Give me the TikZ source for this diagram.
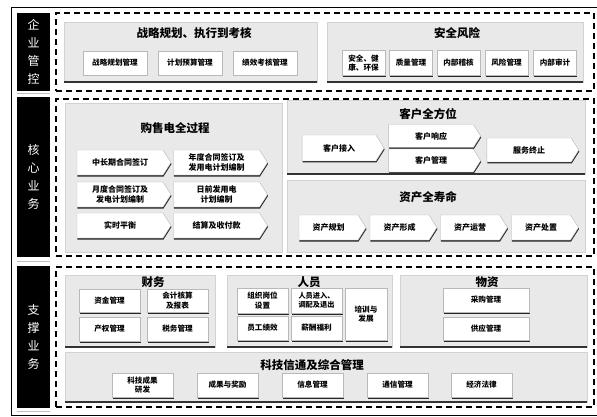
\documentclass[tikz,border=0pt]{standalone}
\usepackage{fontspec}
\usepackage{tikz}
\usetikzlibrary{shapes.symbols,shadows}
\newfontfamily\cjk{Noto Sans CJK SC}

\tikzset{
  pillar/.style={fill=black, text=white, outer sep=0pt, align=center,
    font=\cjk\fontsize{12}{18}\selectfont},
  band/.style={draw, line width=1.2pt, dash pattern=on 6pt off 4pt, outer sep=0pt},
  panel/.style={fill=gray!17, draw=gray!35, line width=.4pt, outer sep=0pt},
  panelbase/.style={line width=1.4pt, black!80},
  ptitle/.style={font=\cjk\bfseries\fontsize{11.5}{13}\selectfont, inner sep=0pt},
  box/.style={draw=gray!55, line width=.4pt, fill=white, align=center, inner sep=1pt,
    font=\cjk\bfseries\fontsize{7.6}{9.5}\selectfont,
    drop shadow={shadow xshift=.5pt, shadow yshift=-1.5pt, fill=black!85, opacity=1}},
  arrowbox/.style={box, signal, signal to=east, signal pointer angle=115,
    font=\cjk\bfseries\fontsize{8}{10}\selectfont},
}

\begin{document}
\begin{tikzpicture}[x=1pt, y=-1pt]
\useasboundingbox (0,0) rectangle (597,417);
\draw[line width=.5pt] (597,7) -- (11,7) -- (11,415) -- (597,415);

\node[pillar, minimum width=33pt, minimum height=78pt] (qygk) at (33.5,52) {企\\业\\管\\控};
\node[pillar, minimum width=33pt, minimum height=160pt] (hxyw) at (33.5,177) {核\\心\\业\\务};
\node[pillar, minimum width=33pt, minimum height=142pt] (zcyw) at (33.5,337) {支\\撑\\业\\务};
\draw[gray!50, line width=1pt] (17,94) -- (50,94) (17,261.5) -- (50,261.5) (17,411) -- (50,411);

\node[band, minimum width=538pt, minimum height=78pt] (b1) at (325,52) {};
\node[band, minimum width=538pt, minimum height=157pt] (b2) at (325,177.5) {};
\node[band, minimum width=538pt, minimum height=140pt] (b3) at (325,337) {};

% enterprise control
\node[panel, minimum width=253pt, minimum height=60pt] (zl) at (190.5,52) {};
\draw[panelbase] (zl.south west) -- (zl.south east);
\node[ptitle] at (194,33) {战略规划、执行到考核};
\node[box, minimum width=64pt, minimum height=24pt] (zlgh) at (115,63) {战略规划管理};
\node[box, minimum width=64pt, minimum height=24pt] (jhys) at (190,63) {计划预算管理};
\node[box, minimum width=64pt, minimum height=24pt] (jxkh) at (265,63) {绩效考核管理};

\node[panel, minimum width=256pt, minimum height=60pt] (aq) at (455,52) {};
\draw[panelbase] (aq.south west) -- (aq.south east);
\node[ptitle] at (457,33) {安全风险};
\node[box, minimum width=43pt, minimum height=25pt] (ajh) at (363.5,63) {安全、健\\康、环保};
\node[box, minimum width=43pt, minimum height=25pt] (zlgl) at (411,63) {质量管理};
\node[box, minimum width=43pt, minimum height=25pt] (nbjh) at (458.5,63) {内部稽核};
\node[box, minimum width=43pt, minimum height=25pt] (fxgl) at (506.5,63) {风险管理};
\node[box, minimum width=43pt, minimum height=25pt] (nbsj) at (555,63) {内部审计};

% core business
\node[panel, minimum width=217pt, minimum height=149pt] (gsd) at (173.5,177.5) {};
\node[ptitle] at (175,128) {购售电全过程};
\node[arrowbox, minimum width=94pt, minimum height=25pt] (zcq) at (120,162.5) {中长期合同签订};
\node[arrowbox, minimum width=94pt, minimum height=25pt] (ndht) at (216.5,162.5) {年度合同签订及\\发用电计划编制};
\node[arrowbox, minimum width=94pt, minimum height=25pt] (ydht) at (120,194.5) {月度合同签订及\\发电计划编制};
\node[arrowbox, minimum width=94pt, minimum height=25pt] (rqjh) at (216.5,194.5) {日前发用电\\计划编制};
\node[arrowbox, minimum width=94pt, minimum height=25pt] (sspx) at (120,225.5) {实时平衡};
\node[arrowbox, minimum width=94pt, minimum height=25pt] (jsfk) at (216.5,225.5) {结算及收付款};

\node[panel, minimum width=298pt, minimum height=74pt] (kh) at (436,137) {};
\draw[panelbase] (kh.south west) -- (kh.south east);
\node[ptitle] at (428,114) {客户全方位};
\node[arrowbox, minimum width=82pt, minimum height=26pt] (khjr) at (339,148) {客户接入};
\node[arrowbox, minimum width=92pt, minimum height=23pt] (khxy) at (431,136) {客户响应};
\node[arrowbox, minimum width=92pt, minimum height=23pt] (khgl) at (431,160.5) {客户管理};
\node[arrowbox, minimum width=92pt, minimum height=24pt] (fwzz) at (529,150) {服务终止};

\node[panel, minimum width=298pt, minimum height=72pt] (zc) at (436,216) {};
\node[ptitle] at (428,197) {资产全寿命};
\node[arrowbox, minimum width=67pt, minimum height=25pt] (zcgh) at (328.5,227.5) {资产规划};
\node[arrowbox, minimum width=67pt, minimum height=25pt] (zcxc) at (399.5,227.5) {资产形成};
\node[arrowbox, minimum width=67pt, minimum height=25pt] (zcyy) at (470,227.5) {资产运营};
\node[arrowbox, minimum width=67pt, minimum height=25pt] (zccz) at (541,227.5) {资产处置};

% support business
\node[panel, minimum width=150pt, minimum height=72pt] (cw) at (140,311) {};
\draw[panelbase] (cw.south west) -- (cw.south east);
\node[ptitle] at (153,282) {财务};
\node[box, minimum width=61pt, minimum height=23pt] (zjgl) at (109.5,300.5) {资金管理};
\node[box, minimum width=61pt, minimum height=23pt] (kjhs) at (177.5,300.5) {会计核算\\及报表};
\node[box, minimum width=61pt, minimum height=24pt] (cqgl) at (109.5,329) {产权管理};
\node[box, minimum width=61pt, minimum height=24pt] (swgl) at (177.5,329) {税务管理};

\node[panel, minimum width=165pt, minimum height=72pt] (ry) at (309.5,311) {};
\draw[panelbase] (ry.south west) -- (ry.south east);
\node[ptitle] at (309,282) {人员};
\node[box, minimum width=51pt, minimum height=25pt] (zzgw) at (262.5,300.5) {组织岗位\\设置};
\node[box, minimum width=51pt, minimum height=25pt, font=\cjk\bfseries\fontsize{7.2}{9}\selectfont] (ryjr) at (316.5,300.5) {人员进入、\\调配及退出};
\node[box, minimum width=51pt, minimum height=24pt] (ygjx) at (262.5,328) {员工绩效};
\node[box, minimum width=51pt, minimum height=24pt] (xcfl) at (316.5,328) {薪酬福利};
\node[box, minimum width=42pt, minimum height=52pt] (pxfz) at (366,314) {培训与\\发展};

\node[panel, minimum width=187pt, minimum height=72pt] (wz) at (493.5,311) {};
\draw[panelbase] (wz.south west) -- (wz.south east);
\node[ptitle] at (487,282) {物资};
\node[box, minimum width=86pt, minimum height=24pt] (cggl) at (486,300) {采购管理};
\node[box, minimum width=86pt, minimum height=23pt] (gygl) at (486,328.5) {供应管理};

\node[panel, minimum width=522pt, minimum height=50pt] (kj) at (326,377) {};
\draw[panelbase] (kj.south west) -- (kj.south east);
\node[ptitle] at (312,365) {科技信通及综合管理};
\node[box, minimum width=61pt, minimum height=24pt] (kjcg) at (142.5,385) {科技成果\\研发};
\node[box, minimum width=61pt, minimum height=24pt] (cgjl) at (227.5,385) {成果与奖励};
\node[box, minimum width=61pt, minimum height=24pt] (xxgl) at (312.5,385) {信息管理};
\node[box, minimum width=61pt, minimum height=24pt] (txgl) at (397.5,385) {通信管理};
\node[box, minimum width=61pt, minimum height=24pt] (jjfl) at (481.5,385) {经济法律};
\end{tikzpicture}
\end{document}
